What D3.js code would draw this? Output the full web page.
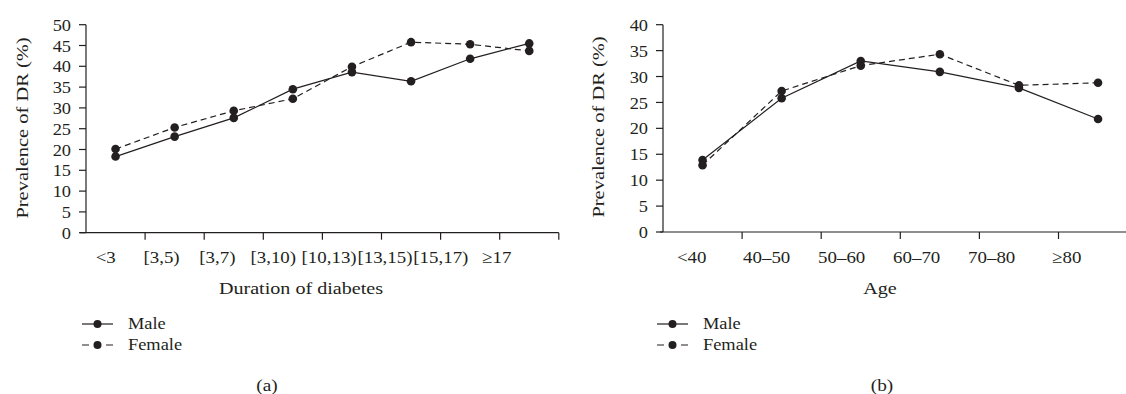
<!DOCTYPE html>
<html><head><meta charset="utf-8">
<script src="https://cdn.jsdelivr.net/npm/d3@7"></script>
<style>
body{margin:0;background:#fff;}
text{font-family:"Liberation Serif","Times New Roman",serif;fill:#231f20;}
</style></head>
<body><svg id="c" width="1126" height="394"></svg>
<script>
const durCats = ["<3","[3,5)","[3,7)","[3,10)","[10,13)","[13,15)","[15,17)","≥17"];
const durMale = [18.3,23.1,27.6,34.5,38.6,36.4,41.8,45.5];
const durFemale = [20.1,25.3,29.3,32.2,39.9,45.8,45.3,43.7];
const durTicks = [0,5,10,15,20,25,30,35,40,45,50];

const ageCats = ["<40","40–50","50–60","60–70","70–80","≥80"];
const ageMale = [13.9,25.8,33.0,30.9,27.8,21.8];
const ageFemale = [12.9,27.2,32.1,34.3,28.3,28.8];
const ageTicks = [0,5,10,15,20,25,30,35,40];

const seriesNames = ["Male","Female"];

const svg = d3.select("#c");
const ink = "#231f20";
const FS = 17.5;

// text helper: wide serif look via horizontal stretch in text direction
function txt(g, x, y, s, anchor, sx, rot){
  return g.append("text")
    .attr("transform", `translate(${x},${y})` + (rot ? ` rotate(${rot})` : "") + ` scale(${sx},1)`)
    .attr("text-anchor", anchor || "start").attr("dy","0.35em").attr("font-size",FS).text(s);
}

function panel(o){
  const g = svg.append("g");
  const x = d3.scaleBand().domain(o.cats).range([o.x0, o.x0 + o.bw*o.cats.length]).paddingInner(0).paddingOuter(0);
  const y = d3.scaleLinear().domain([0, o.ymax]).range([o.y0, o.y1]);
  const xl = d3.scalePoint().domain(o.cats).range(o.labelRange);
  // y axis
  g.append("line").attr("x1",o.x0).attr("x2",o.x0).attr("y1",y(0)).attr("y2",y(o.ymax)).attr("stroke",ink).attr("stroke-width",1.2);
  o.ticks.forEach(t=>{
    g.append("line").attr("x1",o.x0-7).attr("x2",o.x0).attr("y1",y(t)).attr("y2",y(t)).attr("stroke",ink).attr("stroke-width",1.2);
    txt(g, o.x0-15, y(t), t, "end", 1.05);
  });
  // x axis
  g.append("line").attr("x1",o.x0-o.xext).attr("x2",x.range()[1]).attr("y1",y(0)).attr("y2",y(0)).attr("stroke",ink).attr("stroke-width",1.2);
  o.cats.forEach(c=>{
    const xb = x(c)+x.bandwidth();
    g.append("line").attr("x1",xb).attr("x2",xb).attr("y1",y(0)).attr("y2",y(0)+7).attr("stroke",ink).attr("stroke-width",1.2);
    txt(g, xl(c), 257, c, "middle", 1.08);
  });
  // titles
  txt(g, o.ylabX, o.ylabY, "Prevalence of DR (%)", "middle", 1.17, -90);
  txt(g, o.xtX, 288, o.xtitle, "middle", 1.15);
  txt(g, o.capX, 385, o.cap, "middle", 1.1);
  // series
  const cx = c => x(c)+x.bandwidth()/2;
  const series = [{vals:o.male,dash:null},{vals:o.female,dash:"6,4"}];
  series.forEach(s=>{
    const line = d3.line().x((d,i)=>cx(o.cats[i])).y(d=>y(d));
    g.append("path").attr("d",line(s.vals)).attr("fill","none").attr("stroke",ink).attr("stroke-width",1.2).attr("stroke-dasharray",s.dash);
  });
  series.forEach(s=>{
    g.selectAll(null).data(s.vals).enter().append("circle").attr("cx",(d,i)=>cx(o.cats[i])).attr("cy",d=>y(d)).attr("r",4.3).attr("fill",ink);
  });
  // legend
  seriesNames.forEach((n,i)=>{
    const ly = 324 + i*21;
    g.append("line").attr("x1",o.legX).attr("x2",o.legX+31).attr("y1",ly).attr("y2",ly).attr("stroke",ink).attr("stroke-width",1.2).attr("stroke-dasharray",i===1?"7,17":null);
    g.append("circle").attr("cx",o.legX+15.5).attr("cy",ly).attr("r",4).attr("fill",ink);
    txt(g, o.legX+46, ly-1.5, n, "start", 1.05);
  });
}

panel({cats:durCats,male:durMale,female:durFemale,ticks:durTicks,ymax:50,x0:86,bw:59.1,y0:232.7,y1:24.7,xext:6,
  labelRange:[105.7,496.7],ylabX:22,ylabY:128,xtX:301,xtitle:"Duration of diabetes",capX:267,cap:"(a)",legX:82});
panel({cats:ageCats,male:ageMale,female:ageFemale,ticks:ageTicks,ymax:40,x0:663,bw:79.1,y0:232,y1:24.7,xext:3,
  labelRange:[691.7,1066.7],ylabX:598,ylabY:127,xtX:880,xtitle:"Age",capX:882,cap:"(b)",legX:657});
</script></body></html>
